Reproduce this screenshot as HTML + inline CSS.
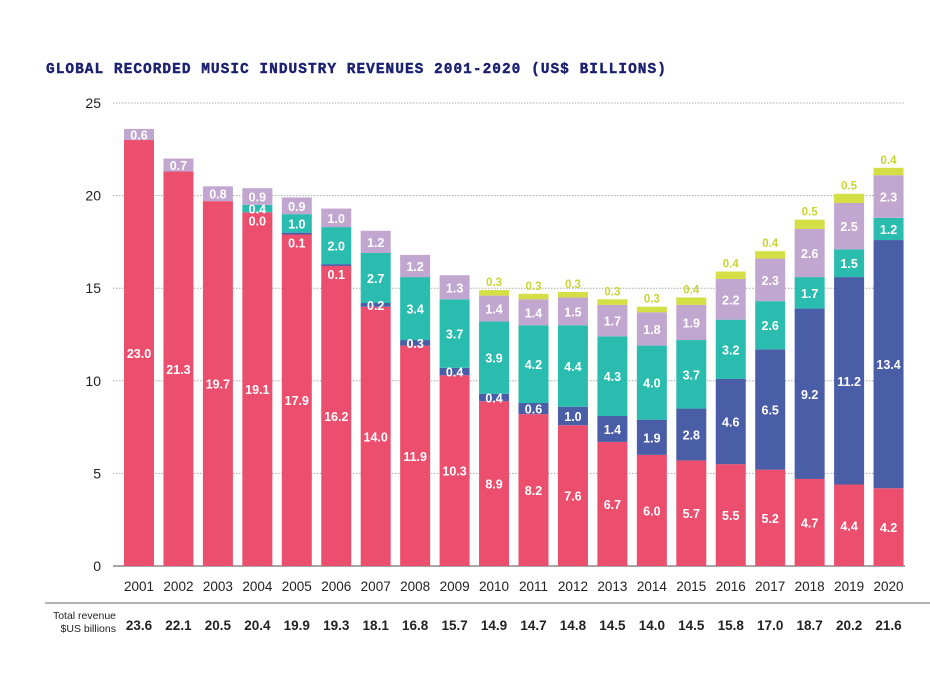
<!DOCTYPE html>
<html><head><meta charset="utf-8"><style>
body{margin:0;background:#fff;width:930px;height:668px;overflow:hidden;font-family:"Liberation Sans",sans-serif}
</style></head><body>
<svg id="chart" width="930" height="668" xmlns="http://www.w3.org/2000/svg">
<text x="46" y="73" font-family="Liberation Mono,monospace" font-weight="bold" font-size="14.5" fill="#1b2170" letter-spacing="1" stroke="#1b2170" stroke-width="0.4">GLOBAL RECORDED MUSIC INDUSTRY REVENUES 2001-2020 (US$ BILLIONS)</text>
<g id="grid"></g><g id="bars"></g><g id="labels"></g>
<line x1="45" y1="603" x2="930" y2="603" stroke="#666" stroke-width="1"/>
<text x="116" y="619" text-anchor="end" font-size="10.5" fill="#222">Total revenue</text>
<text x="116" y="632" text-anchor="end" font-size="10.5" fill="#222">$US billions</text>
</svg>
<script>
const years=["2001","2002","2003","2004","2005","2006","2007","2008","2009","2010","2011","2012","2013","2014","2015","2016","2017","2018","2019","2020"];
const physical=[23.0,21.3,19.7,19.1,17.9,16.2,14.0,11.9,10.3,8.9,8.2,7.6,6.7,6.0,5.7,5.5,5.2,4.7,4.4,4.2];
const streaming=[null,null,null,0.0,0.1,0.1,0.2,0.3,0.4,0.4,0.6,1.0,1.4,1.9,2.8,4.6,6.5,9.2,11.2,13.4];
const downloads=[null,null,null,0.4,1.0,2.0,2.7,3.4,3.7,3.9,4.2,4.4,4.3,4.0,3.7,3.2,2.6,1.7,1.5,1.2];
const performance=[0.6,0.7,0.8,0.9,0.9,1.0,1.2,1.2,1.3,1.4,1.4,1.5,1.7,1.8,1.9,2.2,2.3,2.6,2.5,2.3];
const sync=[null,null,null,null,null,null,null,null,null,0.3,0.3,0.3,0.3,0.3,0.4,0.4,0.4,0.5,0.5,0.4];
const totals=["23.6","22.1","20.5","20.4","19.9","19.3","18.1","16.8","15.7","14.9","14.7","14.8","14.5","14.0","14.5","15.8","17.0","18.7","20.2","21.6"];
const yTicks=[0,5,10,15,20,25];
const NS="http://www.w3.org/2000/svg";
const y0=566,yTop=103,yMax=25;
const y=v=>y0-(v/yMax)*(y0-yTop);
const xc=i=>139+i*39.45;
const bw=30;
function mk(tag,attrs,parent,txt){const e=document.createElementNS(NS,tag);for(const k in attrs)e.setAttribute(k,attrs[k]);if(txt!==undefined)e.textContent=txt;parent.appendChild(e);return e;}
const grid=document.getElementById('grid'),bars=document.getElementById('bars'),labels=document.getElementById('labels'),svg=document.getElementById('chart');
yTicks.forEach(t=>{
  const l=mk('line',{x1:113,x2:905,y1:y(t),y2:y(t),stroke:t===0?'#888':'#aaa','stroke-width':t===0?1.5:1,'stroke-dasharray':t===0?'':'1.5,1.5'},grid);
  
  
  const tx=mk('text',{x:101,y:y(t)+5,'text-anchor':'end','font-size':14,fill:'#222'},grid,String(t));
  
  
});
const series=[["physical",physical,"#ec4e6e"],["streaming",streaming,"#4a5ea8"],["downloads",downloads,"#2bbcb0"],["performance",performance,"#c1a6d0"],["sync",sync,"#d3df45"]];
years.forEach((yr,i)=>{
  let base=0;const x=xc(i)-bw/2;
  series.forEach(([name,arr,col])=>{
    const v=arr[i];if(v===null)return;
    const r=mk('rect',{x:x,y:y(base+v),width:bw,height:Math.max(y(base)-y(base+v),0),fill:col},bars);
    
    
    let ly,fill='#fff';
    if(name==='sync'){ly=y(base+v)-4;fill='#c9d435';}
    else if(name==='streaming'&&v<=0.1){ly=y(base)+13;}
    else ly=(y(base)+y(base+v))/2+5;
    const t=mk('text',{x:xc(i),y:ly,'text-anchor':'middle','font-size':name==='sync'?11.5:12.5,'font-weight':'bold',fill:fill},labels,v.toFixed(1));
    
    
    base+=v;
  });
  const yl=mk('text',{x:xc(i),y:591,'text-anchor':'middle','font-size':13.5,fill:'#222'},svg,yr);
  
  
  const tl=mk('text',{x:xc(i),y:630,'text-anchor':'middle','font-size':13.5,'font-weight':'bold',fill:'#222'},svg,totals[i]);
  
  
});
</script>
</body></html>
